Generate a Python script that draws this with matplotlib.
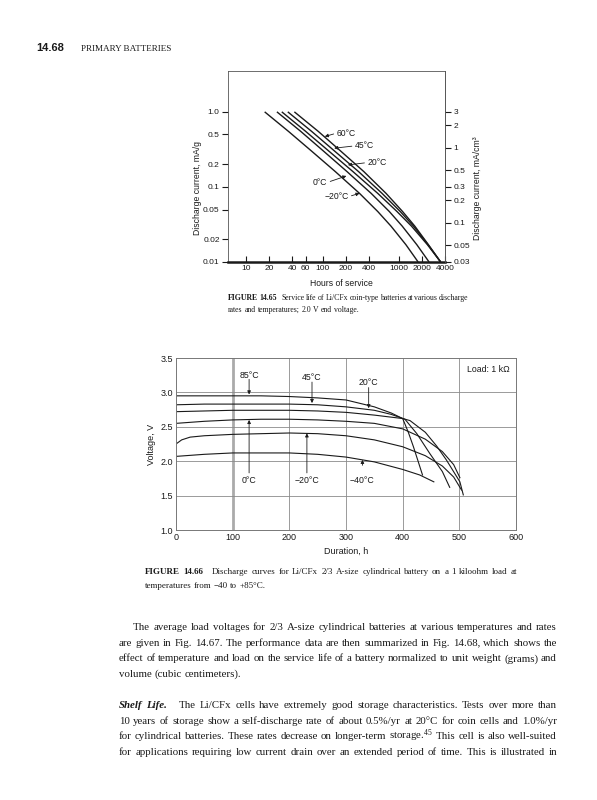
import matplotlib
matplotlib.use("Agg")
import matplotlib.pyplot as plt
from matplotlib.ticker import NullLocator

plt.rcParams['font.family'] = ['Liberation Sans', 'DejaVu Sans']
plt.rcParams['mathtext.default'] = 'regular'

W, H = 597, 800
ink = '#1a1a1a'

## ---- FIGURE 14.65 : service life vs discharge current (log-log)
cur_levels = [1.0, 0.55, 0.30, 0.16, 0.082, 0.047, 0.030, 0.017, 0.01]
hrs_m20 = [17.5, 35.8, 71.9, 147, 305, 528, 787, 1232, 1781]
hrs_0 = [25.3, 51.8, 103, 209, 433, 748, 1104, 1712, 2476]
hrs_20 = [29.3, 60.1, 121, 250, 528, 942, 1460, 2355, 3510]
hrs_45 = [35.1, 71.9, 144, 296, 601, 1040, 1550, 2403, 3510]
hrs_60 = [42.8, 87.8, 173, 347, 678, 1115, 1613, 2427, 3510]
top_series = [hrs_m20, hrs_0, hrs_20, hrs_45, hrs_60]

top_xticks = [10, 20, 40, 60, 100, 200, 400, 1000, 2000, 4000]
top_yticks = [1.0, 0.5, 0.2, 0.1, 0.05, 0.02, 0.01]
top_ylabels = ['1.0', '0.5', '0.2', '0.1', '0.05', '0.02', '0.01']
right_yticks = [3, 2, 1, 0.5, 0.3, 0.2, 0.1, 0.05, 0.03]
right_ylabels = ['3', '2', '1', '0.5', '0.3', '0.2', '0.1', '0.05', '0.03']

# label, text pos, arrow tip, text alignment
top_notes = [
    ('60°C', (152, 0.52), (107, 0.469), 'left'),
    ('45°C', (263, 0.352), (142, 0.328), 'left'),
    ('20°C', (384, 0.211), (215, 0.196), 'left'),
    ('0°C', (116, 0.115), (205, 0.140), 'right'),
    ('\u221220°C', (220, 0.0743), (305, 0.0823), 'right'),
]

## ---- FIGURE 14.66 : discharge curves on 1 kohm
h85 = [0, 50, 100, 150, 200, 250, 300, 350, 380, 400, 410, 419, 428, 435]
v85 = [2.95, 2.95, 2.95, 2.95, 2.94, 2.92, 2.89, 2.79, 2.70, 2.62, 2.42, 2.21, 1.98, 1.80]
h45 = [0, 50, 100, 150, 200, 250, 300, 350, 380, 404, 425, 448, 470, 483]
v45 = [2.82, 2.83, 2.83, 2.83, 2.83, 2.82, 2.79, 2.74, 2.68, 2.61, 2.40, 2.11, 1.85, 1.62]
h20 = [0, 50, 100, 150, 200, 250, 300, 350, 400, 413, 440, 460, 477, 492, 501, 507]
v20 = [2.72, 2.73, 2.74, 2.74, 2.74, 2.73, 2.71, 2.67, 2.62, 2.59, 2.42, 2.22, 2.02, 1.82, 1.70, 1.51]
h0 = [0, 50, 100, 150, 200, 250, 300, 350, 400, 440, 470, 490, 501]
v0 = [2.55, 2.58, 2.60, 2.61, 2.61, 2.60, 2.58, 2.55, 2.47, 2.32, 2.14, 1.95, 1.76]
hm20 = [0, 10, 25, 50, 100, 150, 200, 250, 300, 350, 400, 440, 470, 490, 504]
vm20 = [2.25, 2.31, 2.35, 2.37, 2.39, 2.40, 2.41, 2.40, 2.37, 2.31, 2.21, 2.08, 1.93, 1.77, 1.58]
hm40 = [0, 50, 100, 150, 200, 250, 300, 350, 400, 430, 455]
vm40 = [2.07, 2.10, 2.12, 2.12, 2.12, 2.10, 2.06, 1.99, 1.88, 1.80, 1.70]
bot_series = [(h85, v85), (h45, v45), (h20, v20), (h0, v0), (hm20, vm20), (hm40, vm40)]

# label, text pos, arrow tail, arrow tip
bot_notes = [
    ('85°C', (129, 3.25), (129, 3.19), (129, 2.97)),
    ('45°C', (240, 3.22), (240, 3.15), (240, 2.845)),
    ('20°C', (340, 3.15), (340, 3.07), (340, 2.77)),
    ('0°C', (129, 1.72), (129, 1.83), (129, 2.60)),
    ('\u221220°C', (231, 1.72), (231, 1.83), (231, 2.405)),
    ('\u221240°C', (329, 1.72), (329, 1.94), (329, 2.02)),
]


def fx(px):
    return px / W


def fy(py):
    return 1 - py / H


fig = plt.figure(figsize=(W / 100, H / 100), dpi=100)

## top chart
ax1 = fig.add_axes([fx(228), fy(262), (445 - 228) / W, (262 - 71) / H])
ax1.set_xscale('log')
ax1.set_yscale('log')
for hrs in top_series:
    ax1.plot(hrs, cur_levels, color=ink, lw=1.0, solid_capstyle='butt')
ax1.set_xlim(5.8, 4000)
ax1.set_ylim(0.01, 3.5)
ax1.set_xticks(top_xticks)
ax1.set_xticklabels([str(v) for v in top_xticks])
ax1.set_yticks(top_yticks)
ax1.set_yticklabels(top_ylabels)
ax1.xaxis.set_minor_locator(NullLocator())
ax1.yaxis.set_minor_locator(NullLocator())
ax1.tick_params(axis='x', direction='in', length=4, width=0.8, labelsize=6, pad=2, colors=ink)
ax1.tick_params(axis='y', direction='out', length=4, width=0.8, labelsize=6, pad=2, colors=ink)
for s in ax1.spines.values():
    s.set_linewidth(0.6)
    s.set_color('#555555')
ax1.spines['bottom'].set_linewidth(1.8)
ax1.spines['bottom'].set_color(ink)

ax2 = ax1.twinx()
ax2.set_yscale('log')
ax2.set_ylim(0.03, 10.5)
ax2.set_yticks(right_yticks)
ax2.set_yticklabels(right_ylabels)
ax2.yaxis.set_minor_locator(NullLocator())
ax2.tick_params(axis='y', direction='out', length=4, width=0.8, labelsize=6, pad=2, colors=ink)
for k, s in ax2.spines.items():
    s.set_visible(k == 'right')
ax2.spines['right'].set_linewidth(0.6)
ax2.spines['right'].set_color('#555555')

for lab, txy, tip, ha in top_notes:
    rel = (0, 0.5) if ha == 'left' else (1, 0.5)
    ax1.annotate(lab, xy=tip, xytext=txy, ha=ha, va='center', fontsize=6.2, color=ink,
                 arrowprops=dict(arrowstyle='-|>', lw=0.6, color=ink, mutation_scale=5,
                                 shrinkA=0, shrinkB=0, relpos=rel))

fig.text(fx(197), fy(188), 'Discharge current, mA/g', rotation=90, ha='center', va='center',
         fontsize=6.2, color=ink)
fig.text(fx(478), fy(188), 'Discharge current, mA/cm\u00b3', rotation=90, ha='center', va='center',
         fontsize=6.2, color=ink)
fig.text(fx(341), fy(284), 'Hours of service', ha='center', va='center', fontsize=6.2, color=ink)

## bottom chart
ax3 = fig.add_axes([fx(176), fy(530), 340 / W, 172 / H])
for hh, vv in bot_series:
    ax3.plot(hh, vv, color=ink, lw=0.8)
ax3.set_xlim(0, 600)
ax3.set_ylim(1.0, 3.5)
ax3.set_xticks(range(0, 601, 100))
ax3.set_yticks([1.0, 1.5, 2.0, 2.5, 3.0, 3.5])
ax3.set_yticklabels(['1.0', '1.5', '2.0', '2.5', '3.0', '3.5'])
ax3.tick_params(length=0, labelsize=6.5, pad=2, colors=ink)
for xv in range(100, 600, 100):
    ax3.axvline(xv, color='#aaaaaa' if xv == 100 else '#8a8a8a',
                lw=2.0 if xv == 100 else 0.6, zorder=0)
for yv in [1.5, 2.0, 2.5, 3.0]:
    ax3.axhline(yv, color='#8a8a8a', lw=0.6, zorder=0)
for s in ax3.spines.values():
    s.set_linewidth(0.7)
    s.set_color('#777777')

for lab, txy, tail, tip in bot_notes:
    ax3.text(txy[0], txy[1], lab, ha='center', va='center', fontsize=6.3, color=ink)
    ax3.annotate('', xy=tip, xytext=tail,
                 arrowprops=dict(arrowstyle='-|>', lw=0.6, color=ink, mutation_scale=5,
                                 shrinkA=0, shrinkB=0))
ax3.text(588, 3.33, 'Load: 1 k\u03a9', ha='right', va='center', fontsize=6.3, color=ink)

fig.text(fx(151), fy(444), 'Voltage, V', rotation=90, ha='center', va='center', fontsize=6.5, color=ink)
fig.text(fx(346), fy(551), 'Duration, h', ha='center', va='center', fontsize=6.5, color=ink)

## page text
renderer = fig.canvas.get_renderer()


def line(y, x0, parts, size, x1=None):
    # parts: (string, weight, style, gap weight after the part)
    objs, gaps = [], []
    for s, wt, st, g in parts:
        ws = s.split()
        for i, w in enumerate(ws):
            t = fig.text(0, fy(y), w, fontsize=size, family='Liberation Serif', weight=wt,
                         style=st, color=ink, ha='left', va='baseline')
            objs.append(t)
            gaps.append(1 if i < len(ws) - 1 else g)
    gaps = gaps[:-1]
    widths = [t.get_window_extent(renderer).width for t in objs]
    space = size * 100 / 72 * 0.25
    if x1 is not None and gaps:
        space = max((x1 - x0 - sum(widths)) / sum(gaps), space * 0.6)
    x = x0
    for i, t in enumerate(objs):
        t.set_x(fx(x))
        x += widths[i]
        if i < len(gaps):
            x += space * gaps[i]


def plain(s, g=1):
    return (s, 'normal', 'normal', g)


fig.text(fx(36), fy(51), '14.68', fontsize=8, weight='bold', color=ink, ha='left', va='baseline')
fig.text(fx(81), fy(51), 'PRIMARY BATTERIES', fontsize=6.6, family='Liberation Serif',
         color=ink, ha='left', va='baseline')

line(299.5, 228, [('FIGURE 14.65', 'bold', 'normal', 3),
                  plain('Service life of Li/CFx coin-type batteries at various discharge')], 5.6, 468)
line(311.5, 228, [plain('rates and temperatures; 2.0 V end voltage.')], 5.6)

cs = 6.5
line(574.5, 145, [('FIGURE 14.66', 'bold', 'normal', 3),
                  plain('Discharge curves for Li/CFx 2/3 A-size cylindrical battery on a 1 kiloohm load at')],
     cs, 517)
line(587.5, 145, [plain('temperatures from \u221240 to +85°C.')], cs)

bx0, bx1, fs = 119, 557, 7.8
ys = [630, 645.7, 661.4, 677, 708, 723.7, 739.4, 755]
line(ys[0], 133, [plain('The average load voltages for 2/3 A-size cylindrical batteries at various temperatures and rates')], fs, bx1)
line(ys[1], bx0, [plain('are given in Fig. 14.67. The performance data are then summarized in Fig. 14.68, which shows the')], fs, bx1)
line(ys[2], bx0, [plain('effect of temperature and load on the service life of a battery normalized to unit weight (grams) and')], fs, bx1)
line(ys[3], bx0, [plain('volume (cubic centimeters).')], fs)
line(ys[4], bx0, [('Shelf Life.', 'bold', 'italic', 3),
                  plain('The Li/CFx cells have extremely good storage characteristics. Tests over more than')], fs, bx1)
line(ys[5], bx0, [plain('10 years of storage show a self-discharge rate of about 0.5%/yr at 20°C for coin cells and 1.0%/yr')], fs, bx1)
line(ys[6], bx0, [plain('for cylindrical batteries. These rates decrease on longer-term storage.$^{45}$ This cell is also well-suited')], fs, bx1)
line(ys[7], bx0, [plain('for applications requiring low current drain over an extended period of time. This is illustrated in')], fs, bx1)

fig.savefig('out.png', dpi=100)
